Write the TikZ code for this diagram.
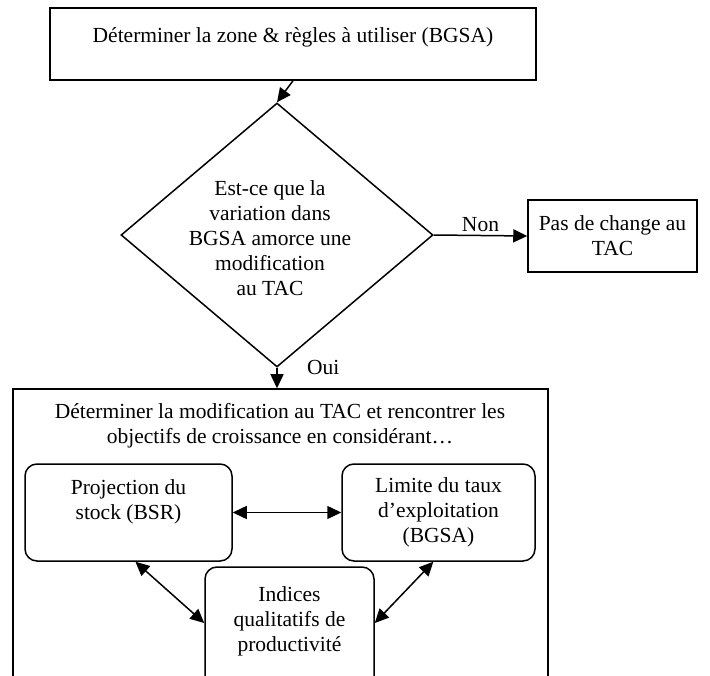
\documentclass[tikz,border=0pt]{standalone}
\usepackage{fontspec}
\setmainfont{Liberation Serif}
\usetikzlibrary{shapes.geometric,positioning,arrows.meta}
\tikzset{>={Triangle[length=14pt,width=13pt]}}

\begin{document}
\begin{tikzpicture}[x=1pt, y=-1pt, line width=1.5pt,
    font=\fontsize{21.5}{25}\selectfont,
    box/.style={draw, rectangle, inner sep=0pt, align=center},
    rbox/.style={draw, rectangle, rounded corners=12pt, inner sep=0pt, align=center},
    choice/.style={draw, diamond, inner sep=0pt, minimum width=312pt, minimum height=264pt}]
  \useasboundingbox (0,0) rectangle (710,676);
  \clip (0,0) rectangle (710,676);

  \node[box, minimum width=486pt, minimum height=72pt, text height=15pt, text depth=17pt] (zone) at (293,44) {Déterminer la zone \& règles à utiliser (BGSA)};
  \node[choice] (q) at (277,235) {}; % question
  \node[align=center] (qtext) at (270,238) {Est-ce que la\\variation dans\\BGSA amorce une\\modification\\au TAC};
  \node[box, minimum width=169pt, minimum height=72pt] (pas) at (612.5,236) {Pas de change au\\TAC};

  \node[box, minimum width=535pt, minimum height=330pt] (tac) at (280.5,554) {};
  \node[align=center] (tactext) at (280,425.5) {Déterminer la modification au TAC et rencontrer les\\objectifs de croissance en considérant…};
  \node[rbox, minimum width=207pt, minimum height=97pt] (proj) at (128.5,512.5) {Projection du\\stock (BSR)\\~};
  \node[rbox, minimum width=193pt, minimum height=97pt] (lim) at (438.5,512.5) {Limite du taux\\d’exploitation\\(BGSA)};
  \node[rbox, minimum width=169pt, minimum height=130pt] (ind) at (289.5,632) {Indices\\qualitatifs de\\productivité\\~};

  \draw[->] (zone.south) -- (q.north);
  \path[->]
  (q.east) edge node[above] (non) {Non} (pas.west)
  (q.south) edge node[pos=0, right=26pt] (oui) {Oui} (q.south |- tac.north);

  \draw[<->] (proj.east) -- (lim.west);
  \draw[<->] (proj.-82) -- (ind.174);
  \draw[<->] (lim.-96) -- (ind.6);
\end{tikzpicture}
\end{document}
